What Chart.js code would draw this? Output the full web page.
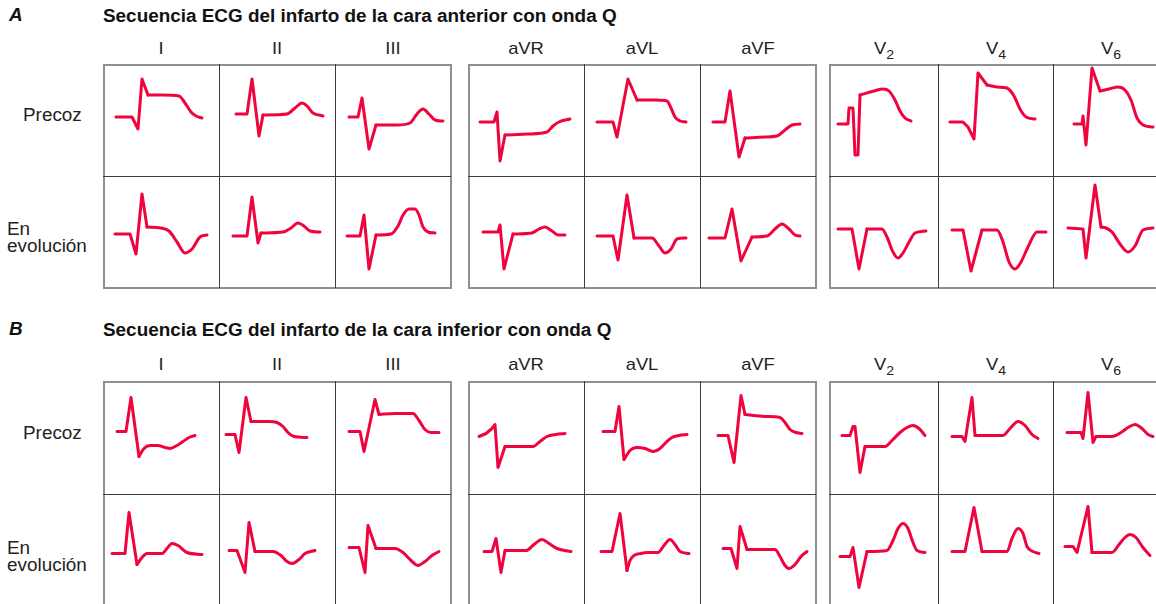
<!DOCTYPE html>
<html><head><meta charset="utf-8">
<script src="https://cdn.jsdelivr.net/npm/chart.js@4.4.1/dist/chart.umd.min.js"></script>
<style>
html,body{margin:0;padding:0;background:#fff;}
#page{position:relative;width:1156px;height:604px;overflow:hidden;font-family:"Liberation Sans",Arial,Helvetica,sans-serif;color:#222;}
.t{position:absolute;white-space:nowrap;}
.grp{position:absolute;box-sizing:border-box;border:2px solid #8f8f8f;}
.vl{position:absolute;width:1px;background:#3c3c3c;}
.hl{position:absolute;height:1px;background:#3c3c3c;}
canvas{position:absolute;}
sub{font-size:13px;line-height:0;vertical-align:-5px;}
</style></head><body><div id="page"></div>
<script>
// ---- categories / labels ----
const leads = ['I','II','III','aVR','aVL','aVF','V<sub>2</sub>','V<sub>4</sub>','V<sub>6</sub>'];
const rowLabels = ['Precoz','En<br>evolución'];
const panelLetters = ['A','B'];
const panelTitles = ['Secuencia ECG del infarto de la cara anterior con onda Q',
                     'Secuencia ECG del infarto de la cara inferior con onda Q'];

// ---- waveform values: [time, amplitude]; null separates QRS (straight) from ST-T (smooth) ----
const A_precoz = [
  [[13,3],[29,3],[35,-9],[39,41],[45,25], null, [60,25],[76,24],[82,17],[88,8],[93,4],[99,2]],
  [[17,6],[28,6],[33,41],[40,-16],[44,5], null, [68,6],[76,12],[83,17],[88,14],[94,7],[104,4]],
  [[14,3],[23,3],[27,22],[34,-29],[41,-5], null, [62,-5],[75,-3],[82,6],[88,11],[94,6],[100,0],[108,-1]],
  [[12,-2],[26,-2],[29,8],[32,-41],[37,-15], null, [60,-14],[79,-12],[85,-6],[91,-2],[102,1]],
  [[13,-2],[29,-2],[33,-17],[44,41],[53,20], null, [70,20],[83,19],[87,12],[91,3],[96,-1],[102,-2]],
  [[13,-2],[25,-2],[30,29],[39,-37],[45,-18], null, [65,-17],[77,-16],[85,-10],[92,-5],[100,-4]],
  [[9,-4],[19,-4],[20,12],[24,12],[26,-35],[29,-35],[31,25], null, [45,29],[54,31],[60,29],[66,20],[71,9],[76,2],[82,-1]],
  [[12,-2],[25,-2],[30,-7],[36,-19],[40,47],[49,35], null, [59,33],[69,32],[76,24],[82,11],[88,3],[97,1]],
  [[21,-4],[29,-4],[30,4],[33,-25],[39,52],[47,29], null, [56,31],[65,33],[72,30],[78,20],[84,2],[90,-5],[100,-7]]
];
const A_evol = [
  [[12,-2],[27,-2],[33,-22],[39,38],[44,5], null, [58,4],[66,1],[74,-10],[82,-21],[89,-17],[97,-5],[104,-3]],
  [[14,-4],[28,-4],[33,35],[39,-11],[42,-1], null, [64,0],[72,4],[79,9],[85,6],[91,1],[101,0]],
  [[12,-4],[25,-4],[29,17],[34,-37],[41,-3], null, [56,-2],[63,6],[68,17],[74,23],[80,23],[84,17],[88,5],[93,0],[100,-1]],
  [[15,0],[30,0],[32,7],[36,-37],[45,-2], null, [64,-1],[71,3],[77,5],[84,1],[90,-3],[97,-3]],
  [[13,-4],[29,-4],[34,-28],[43,37],[50,-6], null, [68,-6],[75,-14],[81,-21],[87,-17],[93,-7],[102,-6]],
  [[9,-6],[25,-6],[32,23],[41,-29],[52,-5], null, [67,-4],[75,3],[82,8],[89,3],[95,-3],[100,-4]],
  [[9,3],[23,3],[30,-37],[38,3], null, [53,3],[58,-5],[64,-20],[69,-26],[74,-21],[80,-10],[86,-1],[97,1]],
  [[14,2],[25,2],[33,-39],[44,2], null, [59,2],[65,-10],[71,-30],[77,-37],[83,-30],[90,-15],[99,0],[108,0]],
  [[15,4],[30,3],[33,-26],[42,47],[48,5], null, [53,4],[59,0],[67,-12],[75,-20],[82,-14],[90,2],[100,4]]
];
const B_precoz = [
  [[14,6],[23,6],[28,40],[36,-19], null, [41,-11],[47,-8],[55,-8],[62,-10],[67,-11],[74,-8],[80,-4],[86,0],[92,2]],
  [[7,3],[16,3],[20,-15],[27,40],[32,16], null, [50,16],[58,15],[64,11],[69,5],[75,1],[88,0]],
  [[14,6],[25,6],[29,-14],[40,38],[44,23], null, [60,24],[78,24],[84,17],[90,8],[96,5],[104,5]],
  [[11,1],[18,4],[24,9],[27,13],[30,-30],[37,-9], null, [55,-9],[65,-9],[72,-4],[79,1],[88,3],[97,4]],
  [[19,6],[31,6],[35,31],[40,-22], null, [46,-13],[53,-10],[61,-11],[69,-14],[76,-11],[82,-5],[88,0],[95,2],[103,3]],
  [[18,2],[28,2],[34,-25],[41,42],[45,23], null, [65,21],[80,20],[85,15],[90,8],[96,5],[102,4]],
  [[13,2],[21,2],[24,11],[26,11],[31,-35],[36,-9], null, [56,-9],[63,-3],[71,5],[78,10],[84,12],[90,9],[96,2]],
  [[14,1],[24,1],[27,-4],[34,40],[37,2], null, [65,2],[72,9],[80,16],[87,12],[94,3],[100,-1]],
  [[14,5],[28,5],[30,-1],[35,45],[40,-5],[43,1], null, [59,1],[68,5],[75,10],[82,13],[89,9],[95,3],[100,1]]
];
const B_evol = [
  [[9,-3],[22,-3],[26,38],[34,-14], null, [39,-7],[44,-3],[52,-3],[59,-3],[64,2],[69,7],[75,5],[84,-2],[99,-4]],
  [[10,0],[18,0],[26,-22],[30,28],[36,-1], null, [54,-1],[62,-5],[68,-11],[73,-13],[80,-9],[86,-3],[96,0]],
  [[14,3],[24,3],[30,-22],[33,25],[41,2], null, [60,2],[68,-2],[76,-10],[83,-15],[90,-11],[97,-5],[104,-1]],
  [[16,-1],[24,-1],[28,12],[33,-22],[37,0], null, [58,0],[66,6],[74,11],[81,7],[89,2],[103,-1]],
  [[17,-1],[28,-1],[36,37],[43,-20], null, [46,-10],[50,-5],[57,-3],[63,-2],[74,-2],[80,5],[86,11],[91,6],[96,-1],[105,-3]],
  [[23,2],[31,2],[37,-18],[40,24],[47,1], null, [75,1],[80,-6],[85,-15],[89,-18],[95,-14],[101,-6],[107,-1]],
  [[11,-6],[21,-6],[24,3],[30,-37],[38,-1], null, [58,0],[64,10],[69,22],[74,27],[79,22],[84,8],[88,0],[96,-2]],
  [[14,-1],[27,-1],[36,43],[44,-1], null, [69,-1],[74,12],[80,22],[85,17],[89,4],[95,-1],[101,-3]],
  [[12,4],[20,4],[24,-2],[35,44],[39,-2], null, [59,-2],[66,6],[72,13],[77,16],[83,13],[90,3],[97,-5]]
];
const panels = [[A_precoz, A_evol],[B_precoz, B_evol]];

// ---- layout (not data) ----
const colLeft = [103,219,335,468,584,700,829,938,1053];
const colW    = [116,116,116,116,116,116,109,115,116];
const groups  = [[0,3],[3,6],[6,9]];
const panelTop = [64,381];
const rowH = [[112,112],[113,113]];
const titleY = [17,331];
const leadY  = [48,364];
const rowLabY = [[116,229],[434,548]];
const RED = '#f0043e';
const SX = 1.08;

const page = document.getElementById('page');
function text(html, x, cy, size, opts={}){
  const d = document.createElement('div');
  d.className = 't';
  d.innerHTML = html;
  d.style.fontSize = size+'px';
  const lh = opts.lh||size;
  d.style.lineHeight = lh+'px';
  d.style.top = (cy - lh/2)+'px';
  d.style.left = x+'px';
  if(opts.bold) d.style.fontWeight='bold';
  if(opts.italic) d.style.fontStyle='italic';
  if(opts.color) d.style.color=opts.color;
  if(opts.center){ d.style.transform='translateX(-50%) scaleX('+SX+')'; d.style.transformOrigin='50% 50%'; }
  else { d.style.transform='scaleX('+SX+')'; d.style.transformOrigin='0 50%'; }
  page.appendChild(d);
  return d;
}
function box(cls, l, t, w, h){
  const d=document.createElement('div'); d.className=cls;
  d.style.left=l+'px'; d.style.top=t+'px';
  if(w!=null) d.style.width=w+'px';
  if(h!=null) d.style.height=h+'px';
  page.appendChild(d);
}

panels.forEach((rows, p) => {
  const top = panelTop[p], H = rowH[p][0]+rowH[p][1];
  text(panelLetters[p], 9, titleY[p]-1, 17.5, {bold:true, italic:true, color:'#111'});
  text(panelTitles[p], 103, titleY[p], 17.5, {bold:true, color:'#111'});
  text(rowLabels[0], 23, rowLabY[p][0], 17.5);
  text(rowLabels[1], 7, rowLabY[p][1], 17.5, {lh:17});
  leads.forEach((ld, c) => text(ld, colLeft[c]+colW[c]/2, leadY[p], 17, {center:true}));
  groups.forEach(([a,b]) => {
    let w=0; for(let c=a;c<b;c++) w+=colW[c];
    box('grp', colLeft[a], top, w+1, H+1);
    for(let c=a+1;c<b;c++) box('vl', colLeft[c], top, null, H);
    box('hl', colLeft[a], top+rowH[p][0], w, null);
  });
  rows.forEach((waves, r) => {
    const ct = top + (r ? rowH[p][0] : 0), h = rowH[p][r];
    waves.forEach((wave, c) => {
      const cv = document.createElement('canvas');
      cv.width = colW[c]; cv.height = h;
      cv.style.left = colLeft[c]+'px'; cv.style.top = ct+'px';
      cv.style.width = colW[c]+'px'; cv.style.height = h+'px';
      page.appendChild(cv);
      const k = wave.indexOf(null);
      const qrs = wave.slice(0,k).map(([x,y])=>({x,y}));
      const st = [wave[k-1], ...wave.slice(k+1)].map(([x,y])=>({x,y}));
      const common = {borderColor:RED, borderWidth:3, pointRadius:0, fill:false,
                      borderCapStyle:'round', borderJoinStyle:'round'};
      new Chart(cv, {
        type:'line',
        data:{datasets:[
          Object.assign({data:qrs, tension:0}, common),
          Object.assign({data:st, cubicInterpolationMode:'monotone'}, common)
        ]},
        options:{
          responsive:false, animation:false, devicePixelRatio:1,
          layout:{padding:0},
          plugins:{legend:{display:false}, tooltip:{enabled:false}},
          events:[],
          scales:{
            x:{type:'linear', display:false, min:0, max:colW[c]},
            y:{type:'linear', display:false, min:-h/2, max:h/2}
          }
        }
      });
    });
  });
});
</script>
</body></html>
